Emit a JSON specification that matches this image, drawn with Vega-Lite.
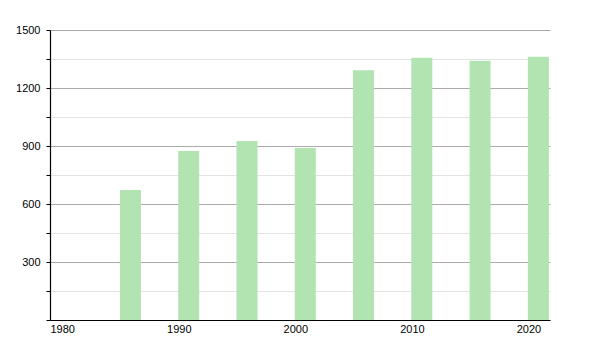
{
  "$schema": "https://vega.github.io/schema/vega-lite/v6.json",
  "width": 500,
  "height": 290,
  "autosize": {"type": "none"},
  "padding": {"left": 50, "top": 30, "right": 50, "bottom": 30},
  "background": "white",
  "config": {"view": {"stroke": null}, "font": "Liberation Sans"},
  "data": {"values": [
    {"year": 1986, "population": 672},
    {"year": 1991, "population": 874},
    {"year": 1996, "population": 926},
    {"year": 2001, "population": 890},
    {"year": 2006, "population": 1292},
    {"year": 2011, "population": 1357},
    {"year": 2016, "population": 1341},
    {"year": 2021, "population": 1362}
  ]},
  "mark": {"type": "bar", "width": 21, "xOffset": 10.5, "color": "#b1e4b1"},
  "encoding": {
    "x": {
      "field": "year", "type": "quantitative",
      "scale": {"domain": [1980, 2022.9], "nice": false, "zero": false, "padding": 0},
      "axis": {
        "title": null, "values": [1980, 1990, 2000, 2010, 2020], "format": "d",
        "labelAlign": "left", "ticks": false, "grid": false,
        "domainColor": "black", "domainWidth": 1.2,
        "labelFontSize": 11, "labelColor": "black", "labelPadding": 3,
        "labelFlush": false
      }
    },
    "y": {
      "field": "population", "type": "quantitative",
      "scale": {"domain": [0, 1500], "nice": false},
      "axis": {
        "title": null,
        "values": [0, 150, 300, 450, 600, 750, 900, 1050, 1200, 1350, 1500],
        "labelExpr": "datum.value % 300 === 0 && datum.value > 0 ? datum.value : ''",
        "grid": true,
        "gridColor": {"condition": {"test": "datum.value % 300 === 0", "value": "#aaaaaa"}, "value": "#e3e3e3"},
        "gridWidth": 1,
        "tickSize": 4, "tickColor": "black",
        "domainColor": "black", "domainWidth": 1.2,
        "labelFontSize": 11, "labelColor": "black", "labelPadding": 6,
        "labelFlush": false
      }
    }
  }
}
